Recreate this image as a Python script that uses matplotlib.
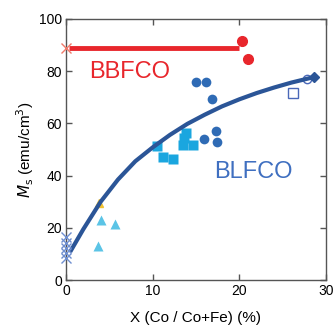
import matplotlib
matplotlib.use('Agg')
import matplotlib.pyplot as plt

plt.rcParams['font.family'] = ['Liberation Sans', 'DejaVu Sans']

# BBFCO
bbfco_line_x = [0.4, 20]
bbfco_line_y = [89, 89]
bbfco_x = [20.3, 21.0]
bbfco_y = [91.6, 84.7]
bbfco_cross_x = [0]
bbfco_cross_y = [89]

# BLFCO
circ_x = [15.0, 16.2, 16.8, 17.3, 15.9, 17.4]
circ_y = [75.7, 75.7, 69.2, 57.1, 54.0, 52.9]
sq_x = [10.5, 11.2, 12.3, 13.5, 13.6, 13.9, 14.7]
sq_y = [51.5, 47.0, 46.2, 51.8, 54.5, 56.5, 51.8]
tri_x = [4.0, 5.7, 3.7]
tri_y = [23.2, 21.5, 13.1]
yel_x = [3.85]
yel_y = [29.5]
cross_x = [0, 0, 0, 0, 0]
cross_y = [16.5, 14.3, 12.3, 10.3, 8.4]
open_sq_x = [26.2]
open_sq_y = [71.8]
open_c_x = [27.8]
open_c_y = [76.9]
dia_x = [28.6]
dia_y = [77.7]
fit_x = [0.6, 2, 4, 6, 8, 10, 12, 14, 16, 18, 20, 22, 24, 26, 28.6]
fit_y = [11.5, 19.5, 30.0, 38.5, 45.5, 50.8, 55.6, 59.8, 63.3, 66.5, 69.2, 71.6, 73.7, 75.6, 77.7]

fig = plt.figure(figsize=(3.35, 3.25), dpi=100)
ax = fig.add_axes([0.197, 0.138, 0.776, 0.804])

ax.plot(bbfco_line_x, bbfco_line_y, color='#E8262C', lw=3.5, solid_capstyle='butt', zorder=3)
ax.plot(bbfco_cross_x, bbfco_cross_y, 'x', color='#F07A6A', ms=7, mew=1, clip_on=False, zorder=4)
ax.plot(bbfco_x, bbfco_y, 'o', color='#E8262C', ms=7, zorder=4)

ax.plot(yel_x, yel_y, '^', color='#F2C230', ms=6, zorder=2)
ax.plot(tri_x, tri_y, '^', color='#5BC4E6', ms=7, mec='none', zorder=2)
ax.plot(sq_x, sq_y, 's', color='#1AA6DF', ms=7.5, mec='none', zorder=2)
ax.plot(circ_x, circ_y, 'o', color='#2F6BB5', ms=7, mec='none', zorder=2)
ax.plot(cross_x, cross_y, 'x', color='#6F8FD0', ms=7, mew=1, clip_on=False, zorder=4)
ax.plot(open_sq_x, open_sq_y, 's', mfc='none', mec='#4A68B8', ms=7, mew=1, zorder=2)
ax.plot(open_c_x, open_c_y, 'o', mfc='none', mec='#4A68B8', ms=6, mew=1, zorder=2)
ax.plot(fit_x, fit_y, '-', color='#2B5597', lw=3, zorder=3)
ax.plot(dia_x, dia_y, 'D', color='#2B5597', ms=5, zorder=3)

ax.text(7.3, 79.5, 'BBFCO', color='#E8262C', fontsize=17, ha='center', va='center')
ax.text(21.6, 41.5, 'BLFCO', color='#3F6FC0', fontsize=17, ha='center', va='center')

ax.set_xlim(0, 30)
ax.set_ylim(0, 100)
ax.set_xticks([0, 10, 20, 30])
ax.set_yticks([0, 20, 40, 60, 80, 100])
ax.tick_params(direction='in', top=True, right=True, length=4, width=1,
               color='#555555', labelsize=10, pad=3)
for s in ax.spines.values():
    s.set_color('#555555')
    s.set_linewidth(1)

ax.set_xlabel('X (Co / Co+Fe) (%)', fontsize=11, labelpad=9)
ax.set_ylabel(r'$M_{\mathrm{s}}$ (emu/cm$^3$)', fontsize=11, labelpad=2)

fig.savefig('out.png', dpi=100)
